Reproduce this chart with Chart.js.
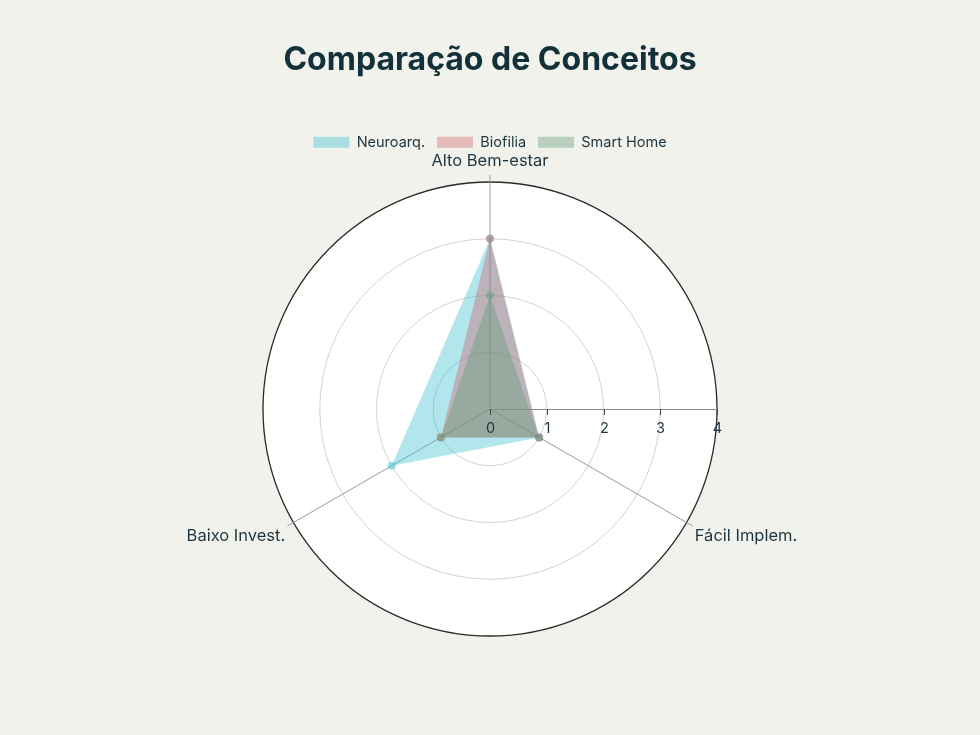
<!DOCTYPE html>
<html>
<head>
<meta charset="utf-8">
<script src="https://cdn.jsdelivr.net/npm/chart.js@4.4.1/dist/chart.umd.min.js"></script>
<style>
  html, body { margin: 0; padding: 0; background: #f2f2ec; }
  #wrap { width: 980px; height: 735px; }
</style>
</head>
<body>
<div id="wrap"><canvas id="chart" width="980" height="735"></canvas></div>
<script>
  // values (radial range 0..4)
  const categories = ['Alto Bem-estar', 'Fácil Implem.', 'Baixo Invest.'];
  const neuroarq = [3, 1, 2];
  const biofilia = [3, 1, 1];
  const smartHome = [2, 1, 1];
  const radialTicks = [0, 1, 2, 3, 4];

  const TEXT = '#1d3540';
  const FONT = 'Inter, "Noto Sans", sans-serif';

  // plotly-like radial axis along 0°, tick labels and category labels
  const polarAxis = {
    id: 'polarAxis',
    afterDatasetsDraw(chart) {
      const s = chart.scales.r;
      const ctx = chart.ctx;
      const cx = s.xCenter, cy = s.yCenter, R = s.drawingArea;
      ctx.save();

      ctx.lineWidth = 1;
      ctx.strokeStyle = '#9a9a9a';
      categories.forEach(function (c, i) {
        var a = s.getPointPosition(i, R);
        var b = s.getPointPosition(i, R + 7);
        ctx.beginPath(); ctx.moveTo(a.x, a.y); ctx.lineTo(b.x, b.y); ctx.stroke();
      });

      ctx.strokeStyle = '#8a8a8a';
      ctx.beginPath(); ctx.moveTo(cx, cy + 0.5); ctx.lineTo(cx + R, cy + 0.5); ctx.stroke();

      ctx.strokeStyle = '#444';
      ctx.fillStyle = TEXT;
      ctx.font = '14.5px ' + FONT;
      ctx.textAlign = 'center';
      ctx.textBaseline = 'middle';
      radialTicks.forEach(function (v) {
        var x = Math.round(cx + s.getDistanceFromCenterForValue(v)) + 0.5;
        ctx.beginPath(); ctx.moveTo(x, cy); ctx.lineTo(x, cy + 6); ctx.stroke();
        ctx.fillText(String(v), x, cy + 20);
      });

      ctx.font = '16.5px ' + FONT;
      categories.forEach(function (c, i) {
        var p = s.getPointPosition(i, R + 6);
        if (Math.abs(p.x - cx) < 1) {
          ctx.textAlign = 'center';
          ctx.fillText(c, p.x, p.y - 15);
        } else if (p.x > cx) {
          ctx.textAlign = 'left';
          ctx.fillText(c, p.x + 3, p.y + 11);
        } else {
          ctx.textAlign = 'right';
          ctx.fillText(c, p.x - 3, p.y + 11);
        }
      });
      ctx.restore();
    }
  };

  function series(label, data, rgb, order) {
    return {
      label: label,
      data: data,
      order: order,
      fill: true,
      backgroundColor: 'rgba(' + rgb + ',0.4)',
      borderColor: 'rgba(' + rgb + ',0.4)',
      borderWidth: 0,
      pointRadius: 4,
      pointBackgroundColor: 'rgba(' + rgb + ',0.5)',
      pointBorderWidth: 0
    };
  }

  new Chart(document.getElementById('chart'), {
    type: 'radar',
    data: {
      labels: categories,
      datasets: [
        series('Neuroarq.', neuroarq, '60,192,210', 3),
        series('Biofilia', biofilia, '205,100,110', 2),
        series('Smart Home', smartHome, '97,157,121', 1)
      ]
    },
    options: {
      responsive: false,
      animation: false,
      layout: { padding: { top: 10, bottom: 76, left: 263, right: 263 } },
      elements: { line: { tension: 0 } },
      scales: {
        r: {
          min: 0,
          max: 4,
          backgroundColor: '#ffffff',
          ticks: { display: false, stepSize: 1 },
          pointLabels: { display: false },
          grid: {
            circular: true,
            lineWidth: function (c) { return c.tick && c.tick.value === 4 ? 1.3 : 1; },
            color: function (c) { return c.tick && c.tick.value === 4 ? '#2a2a2a' : '#d2d2d2'; }
          },
          angleLines: { display: true, color: '#9a9a9a', lineWidth: 1 }
        }
      },
      plugins: {
        title: {
          display: true,
          text: 'Comparação de Conceitos',
          color: '#12313a',
          font: { family: FONT, size: 32, weight: 'bold' },
          padding: { top: 31, bottom: 43.6 }
        },
        legend: {
          display: true,
          position: 'top',
          labels: {
            color: TEXT,
            font: { family: FONT, size: 14.5 },
            boxWidth: 36,
            boxHeight: 11,
            padding: 12,
            sort: function (a, b) { return a.datasetIndex - b.datasetIndex; }
          }
        },
        tooltip: { enabled: false }
      }
    },
    plugins: [polarAxis]
  });
</script>
</body>
</html>
